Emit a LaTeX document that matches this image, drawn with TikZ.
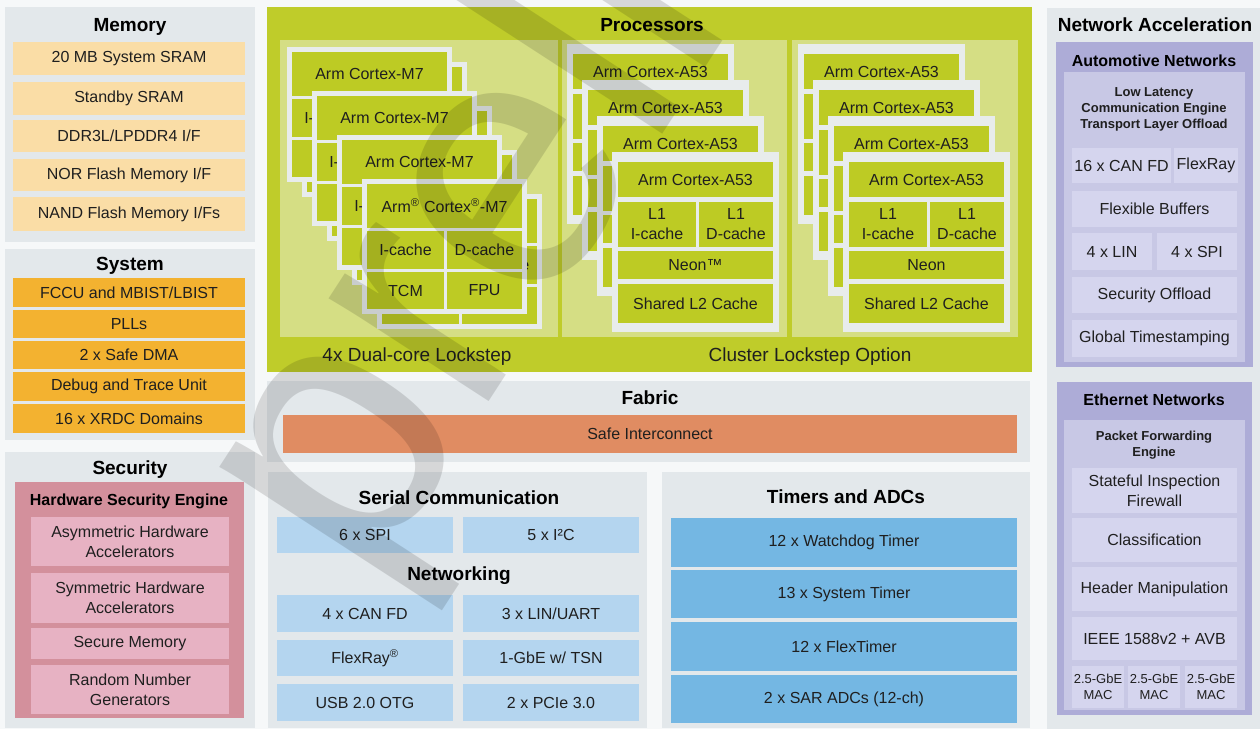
\documentclass[tikz,border=0pt]{standalone}
\usepackage{fontspec}
\setmainfont{Liberation Sans}

\definecolor{bgc}{HTML}{F6F8F9}
\definecolor{panelc}{HTML}{E3E8EB}
\definecolor{memc}{HTML}{FADDA6}
\definecolor{sysc}{HTML}{F3B230}
\definecolor{hsec}{HTML}{D3909C}
\definecolor{hsecell}{HTML}{E7B2C3}
\definecolor{procc}{HTML}{BFCC2A}
\definecolor{procl}{HTML}{D5DE84}
\definecolor{framec}{HTML}{E8ECEC}
\definecolor{corec}{HTML}{BDCB24}
\definecolor{fabc}{HTML}{E08C62}
\definecolor{serc}{HTML}{B4D5EF}
\definecolor{timc}{HTML}{74B7E3}
\definecolor{purc}{HTML}{ADACD7}
\definecolor{purl}{HTML}{C8C8E5}
\definecolor{purcell}{HTML}{D5D5EE}
\definecolor{txtc}{HTML}{1F1F1F}

% block from (x1,y1) to (x2,y2), text centred
\newcommand{\blk}[7]{%
  \node[#2, minimum width={((#5)-(#3))*1pt}, minimum height={((#6)-(#4))*1pt}]
    (#1) at ({((#3)+(#5))/2},{((#4)+(#6))/2}) {#7};}

% one Cortex-M7 card
\newcommand{\mcore}[4]{%
  \blk{#1}{frm}{#2}{#3}{#2+165}{#3+135}{}
  \blk{#1-t}{core}{#2+5}{#3+5}{#2+160}{#3+49}{#4}
  \blk{#1-ic}{core}{#2+5}{#3+52}{#2+82}{#3+90}{I-cache}
  \blk{#1-dc}{core}{#2+85}{#3+52}{#2+160}{#3+90}{D-cache}
  \blk{#1-tcm}{core}{#2+5}{#3+93}{#2+82}{#3+130}{TCM}
  \blk{#1-fpu}{core}{#2+85}{#3+93}{#2+160}{#3+130}{FPU}}

% one Cortex-A53 card
\newcommand{\acore}[4]{%
  \blk{#1}{frm}{#2}{#3}{#2+167}{#3+180}{}
  \blk{#1-t}{core}{#2+6}{#3+10}{#2+161}{#3+45}{Arm Cortex-A53}
  \blk{#1-i}{core}{#2+6}{#3+50}{#2+84}{#3+95}{L1\\I-cache}
  \blk{#1-d}{core}{#2+87}{#3+50}{#2+161}{#3+95}{L1\\D-cache}
  \blk{#1-n}{core}{#2+6}{#3+99}{#2+161}{#3+127}{#4}
  \blk{#1-l2}{core}{#2+6}{#3+132}{#2+161}{#3+171}{Shared L2 Cache}}

\begin{document}
\begin{tikzpicture}[x=1pt, y=-1pt,
  box/.style={inner sep=0pt, outer sep=0pt, align=center, text=txtc,
    font=\fontsize{16}{20}\selectfont},
  panel/.style={box, fill=panelc},
  mem/.style={box, fill=memc},
  sys/.style={box, fill=sysc},
  hse/.style={box, fill=hsec},
  hsecel/.style={box, fill=hsecell},
  proc/.style={box, fill=procc},
  procsub/.style={box, fill=procl},
  frm/.style={box, fill=framec},
  core/.style={box, fill=corec},
  fab/.style={box, fill=fabc},
  ser/.style={box, fill=serc},
  tim/.style={box, fill=timc},
  pur/.style={box, fill=purc},
  purin/.style={box, fill=purl},
  purcel/.style={box, fill=purcell},
  small/.style={font=\fontsize{13}{16}\selectfont},
  smallbf/.style={box, font=\bfseries\fontsize{13}{16}\selectfont},
  ttl/.style={inner sep=0pt, anchor=base, text=black,
    font=\bfseries\fontsize{19}{22}\selectfont},
  subttl/.style={ttl, font=\bfseries\fontsize{16}{20}\selectfont},
  note/.style={inner sep=0pt, anchor=base, text=txtc,
    font=\fontsize{19}{22}\selectfont},
  wmark/.style={inner sep=0pt, text=black, text opacity=0.13,
    font=\fontsize{360}{360}\selectfont}]

\fill[bgc] (0,0) rectangle (1260,729);
\useasboundingbox (0,0) rectangle (1260,729);

% Memory
\blk{memory}{panel}{5}{7}{255}{242}{}
\node[ttl] (memory-l) at (130,31) {Memory};
\blk{sram}{mem}{13}{42}{245}{75}{20 MB System SRAM}
\blk{stby}{mem}{13}{82}{245}{115}{Standby SRAM}
\blk{ddr}{mem}{13}{120}{245}{152}{DDR3L/LPDDR4 I/F}
\blk{nor}{mem}{13}{159}{245}{191}{NOR Flash Memory I/F}
\blk{nand}{mem}{13}{197}{245}{231}{NAND Flash Memory I/Fs}

% System
\blk{system}{panel}{5}{249}{255}{440}{}
\node[ttl] (system-l) at (130,270) {System};
\blk{fccu}{sys}{13}{278}{245}{307}{FCCU and MBIST/LBIST}
\blk{pll}{sys}{13}{310}{245}{338}{PLLs}
\blk{dma}{sys}{13}{341}{245}{369}{2 x Safe DMA}
\blk{dbg}{sys}{13}{372}{245}{401}{Debug and Trace Unit}
\blk{xrdc}{sys}{13}{404}{245}{433}{16 x XRDC Domains}

% Security
\blk{security}{panel}{5}{452}{255}{728}{}
\node[ttl] (security-l) at (130,474) {Security};
\blk{hse}{hse}{15}{482}{244}{718}{}
\node[subttl] (hse-l) at (129,505) {Hardware Security Engine};
\blk{asym}{hsecel}{31}{517}{229}{566}{Asymmetric Hardware\\Accelerators}
\blk{sym}{hsecel}{31}{573}{229}{623}{Symmetric Hardware\\Accelerators}
\blk{smem}{hsecel}{31}{628}{229}{659}{Secure Memory}
\blk{rng}{hsecel}{31}{665}{229}{714}{Random Number\\Generators}

% Processors
\blk{processors}{proc}{267}{7}{1032}{372}{}
\node[ttl] (processors-l) at (652,31) {Processors};
\blk{lockm}{procsub}{280}{40}{558}{337}{}
\blk{locka}{procsub}{562}{40}{787}{337}{}
\blk{lockb}{procsub}{792}{40}{1018}{337}{}
\foreach \k/\lab in {0/Arm Cortex-M7, 1/Arm Cortex-M7, 2/Arm Cortex-M7,
    3/{Arm\textsuperscript{®} Cortex\textsuperscript{®}-M7}} {
  \mcore{m\k-b}{302+25*\k}{62+44*\k}{\lab}
  \mcore{m\k}{287+25*\k}{47+44*\k}{\lab}
}
\foreach \k in {0,...,3} {
  \acore{a\k}{567+15*\k}{44+36*\k}{Neon™}
  \acore{b\k}{798+15*\k}{44+36*\k}{Neon}
}
\node[note] (dual-l) at (417,361) {4x Dual-core Lockstep};
\node[note] (cluster-l) at (810,361) {Cluster Lockstep Option};

% Fabric
\blk{fabric}{panel}{267}{381}{1030}{462}{}
\node[ttl] (fabric-l) at (650,404) {Fabric};
\blk{inter}{fab}{283}{415}{1017}{453}{Safe Interconnect}

% Serial communication and networking
\blk{serial}{panel}{268}{472}{647}{728}{}
\node[ttl] (serial-l) at (459,504) {Serial Communication};
\blk{spi}{ser}{277}{517}{453}{553}{6 x SPI}
\blk{iic}{ser}{463}{517}{639}{553}{5 x I²C}
\node[ttl] (netw-l) at (459,580) {Networking};
\blk{can}{ser}{277}{595}{453}{632}{4 x CAN FD}
\blk{lin}{ser}{463}{595}{639}{632}{3 x LIN/UART}
\blk{flex}{ser}{277}{640}{453}{676}{FlexRay\textsuperscript{®}}
\blk{gbe}{ser}{463}{640}{639}{676}{1-GbE w/ TSN}
\blk{usb}{ser}{277}{684}{453}{721}{USB 2.0 OTG}
\blk{pcie}{ser}{463}{684}{639}{721}{2 x PCIe 3.0}

% Timers and ADCs
\blk{timers}{panel}{662}{472}{1030}{728}{}
\node[ttl] (timers-l) at (846,503) {Timers and ADCs};
\blk{wdog}{tim}{671}{518}{1017}{567}{12 x Watchdog Timer}
\blk{stm}{tim}{671}{570}{1017}{618}{13 x System Timer}
\blk{ftm}{tim}{671}{622}{1017}{671}{12 x FlexTimer}
\blk{adc}{tim}{671}{675}{1017}{723}{2 x SAR ADCs (12-ch)}

% Network acceleration
\blk{netacc}{panel}{1047}{8}{1260}{729}{}
\node[ttl] (netacc-l) at (1155,31) {Network Acceleration};
\blk{auto}{pur}{1056}{42}{1253}{367}{}
\node[subttl] (auto-l) at (1154,66) {Automotive Networks};
\blk{llce}{purin}{1064}{72}{1245}{362}{}
\node[smallbf] (llce-l) at (1154,109)
  {Low Latency\\Communication Engine\\Transport Layer Offload};
\blk{acan}{purcel}{1072}{148}{1171}{183}{16 x CAN FD}
\blk{aflex}{purcel}{1174}{148}{1238}{183}{FlexRay}
\blk{abuf}{purcel}{1072}{191}{1237}{227}{Flexible Buffers}
\blk{alin}{purcel}{1072}{233}{1152}{270}{4 x LIN}
\blk{aspi}{purcel}{1157}{233}{1237}{270}{4 x SPI}
\blk{asec}{purcel}{1072}{277}{1237}{313}{Security Offload}
\blk{ats}{purcel}{1072}{320}{1237}{357}{Global Timestamping}

\blk{eth}{pur}{1057}{382}{1252}{715}{}
\node[subttl] (eth-l) at (1154,405) {Ethernet Networks};
\blk{pfe}{purin}{1064}{420}{1245}{710}{}
\node[smallbf] (pfe-l) at (1154,445) {Packet Forwarding\\Engine};
\blk{fw}{purcel}{1072}{468}{1237}{513}{Stateful Inspection\\Firewall}
\blk{cls}{purcel}{1072}{518}{1237}{562}{Classification}
\blk{hdr}{purcel}{1072}{567}{1237}{611}{Header Manipulation}
\blk{ieee}{purcel}{1072}{617}{1237}{660}{IEEE 1588v2 + AVB}
\foreach \x/\n in {1072/1, 1128/2, 1185/3}
  \blk{mac\n}{purcel, small}{\x}{666}{\x+52}{708}{2.5-GbE\\MAC};

% watermark
\begin{scope}
  \clip (0,0) rectangle (1260,729);
  \node[wmark, rotate=57, anchor=base west] (prelim) at (366,591) {preliminary};
\end{scope}
\end{tikzpicture}
\end{document}
